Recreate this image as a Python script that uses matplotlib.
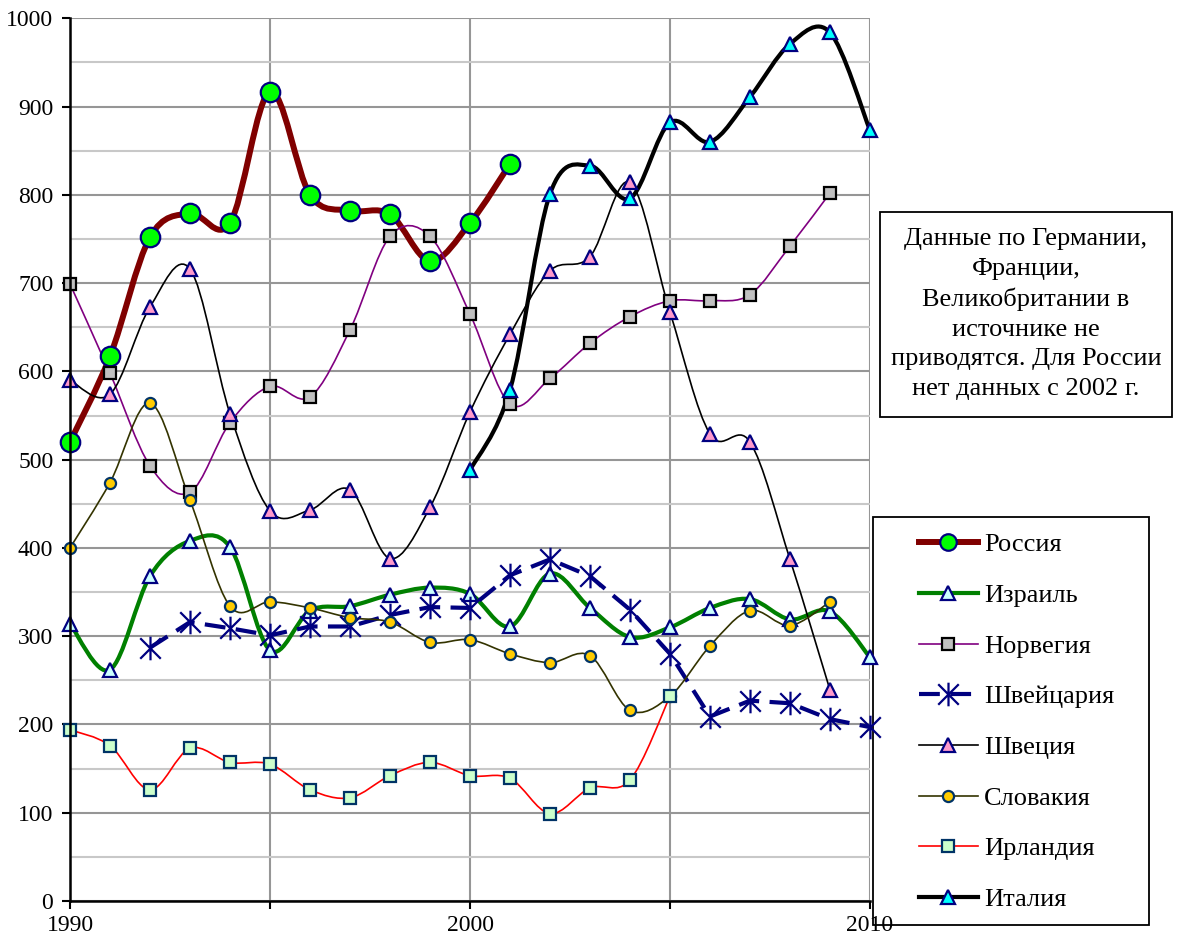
import numpy as np
import matplotlib
matplotlib.use("Agg")
import matplotlib.pyplot as plt
from matplotlib.path import Path
from matplotlib.patches import PathPatch, Rectangle
from matplotlib.lines import Line2D

plt.rcParams['font.family'] = ['Liberation Serif', 'DejaVu Serif']

# ---------------- data ----------------
russia_years = list(range(1990, 2002))
russia = [520, 617, 752, 779, 768, 917, 800, 782, 778, 725, 768, 835]

israel_years = list(range(1990, 2011))
israel = [314, 262, 368, 408, 401, 284, 329, 334, 347, 355, 348, 311, 371, 332, 299,
          310, 332, 342, 319, 328, 276]

norway_years = list(range(1990, 2010))
norway = [699, 598, 493, 463, 542, 583, 571, 647, 753, 753, 665, 563, 592, 632, 662,
          680, 680, 687, 742, 802]

swiss_years = list(range(1992, 2011))
swiss = [287, 316, 309, 301, 311, 311, 324, 333, 332, 369, 387, 368, 330, 280, 209,
         227, 224, 206, 197]

sweden_years = list(range(1990, 2010))
sweden = [590, 574, 673, 716, 552, 442, 443, 466, 388, 446, 554, 642, 714, 730, 814,
          667, 529, 520, 387, 239]

slovakia_years = list(range(1990, 2010))
slovakia = [400, 474, 564, 454, 334, 339, 332, 321, 316, 293, 296, 280, 270, 278, 216,
            232, 289, 329, 312, 339]

ireland_years = list(range(1990, 2006))
ireland = [194, 176, 126, 173, 157, 155, 126, 117, 142, 157, 142, 139, 99, 128, 137, 232]

italy_years = list(range(2000, 2011))
italy = [488, 579, 801, 833, 796, 882, 860, 911, 971, 984, 873]

labels = ['Россия', 'Израиль', 'Норвегия', 'Швейцария', 'Швеция', 'Словакия',
          'Ирландия', 'Италия']
x_tick_values = [1990, 1995, 2000, 2005, 2010]
x_tick_labels = ['1990', '', '2000', '', '2010']
note_text = ("Данные по Германии,\nФранции,\nВеликобритании в\nисточнике не\n"
             "приводятся. Для России\nнет данных с 2002 г.")

# -------------- figure ---------------
W, H = 1178, 942
fig = plt.figure(figsize=(W / 100, H / 100), dpi=100)
ax = fig.add_axes([70 / W, 1 - 901 / H, 800 / W, 882.7 / H])
ax.set_zorder(4)
ax.set_xlim(1990, 2010)
ax.set_ylim(0, 1000)

ax.set_yticks(np.arange(0, 1001, 100))
ax.set_yticks(np.arange(50, 1000, 100), minor=True)
ax.set_xticks(x_tick_values)
ax.set_xticklabels(x_tick_labels)
ax.grid(axis='y', which='major', color='#969696', lw=1.5, zorder=0)
ax.grid(axis='y', which='minor', color='#c8c8c8', lw=1.5, zorder=0)
ax.grid(axis='x', which='major', color='#969696', lw=1.5, zorder=0)
ax.tick_params(axis='y', which='minor', length=0)
ax.tick_params(axis='both', which='major', direction='out', length=6, width=1.5,
               labelsize=17, color='black')
ax.tick_params(axis='x', pad=4)
ax.tick_params(axis='y', pad=6)
for s in ['top', 'right']:
    ax.spines[s].set_visible(False)
for s in ['left', 'bottom']:
    ax.spines[s].set_linewidth(1.8)
    ax.spines[s].set_zorder(10)
ax.set_axisbelow(True)


def smooth_path(xs, ys):
    pts = np.column_stack([xs, ys]).astype(float)
    n = len(pts)
    verts = [pts[0]]
    codes = [Path.MOVETO]
    for i in range(n - 1):
        p0 = pts[i - 1] if i > 0 else pts[i]
        p1 = pts[i]
        p2 = pts[i + 1]
        p3 = pts[i + 2] if i + 2 < n else pts[i + 1]
        c1 = p1 + (p2 - p0) / 6.0
        c2 = p2 - (p3 - p1) / 6.0
        verts += [c1, c2, p2]
        codes += [Path.CURVE4] * 3
    return Path(verts, codes)


star = Path([(-1, -1), (1, 1), (-1, 1), (1, -1), (0, -1.15), (0, 1.15)],
            [Path.MOVETO, Path.LINETO, Path.MOVETO, Path.LINETO, Path.MOVETO, Path.LINETO])

series = [
    dict(x=russia_years, y=russia, color='#800000', lw=4.3, smooth=True,
         marker='o', ms=14, mfc='#00ff00', mec='#000080'),
    dict(x=israel_years, y=israel, color='#008000', lw=3.0, smooth=True,
         marker='^', ms=10.5, mfc='#ccffff', mec='#000080'),
    dict(x=norway_years, y=norway, color='#800080', lw=1.2, smooth=True,
         marker='s', ms=8.5, mfc='#c0c0c0', mec='black'),
    dict(x=swiss_years, y=swiss, color='#000080', lw=3.0, smooth=False,
         marker=star, ms=17, mfc='none', mec='#000080'),
    dict(x=sweden_years, y=sweden, color='black', lw=1.2, smooth=True,
         marker='^', ms=10.5, mfc='#ff99cc', mec='#000080'),
    dict(x=slovakia_years, y=slovakia, color='#333300', lw=1.2, smooth=True,
         marker='o', ms=8, mfc='#ffcc00', mec='#003366'),
    dict(x=ireland_years, y=ireland, color='#ff0000', lw=1.2, smooth=True,
         marker='s', ms=8.5, mfc='#ccffcc', mec='#003366'),
    dict(x=italy_years, y=italy, color='black', lw=3.0, smooth=True,
         marker='^', ms=10.5, mfc='#00ffff', mec='#000080'),
]

handles = []
for i, (s, lab) in enumerate(zip(series, labels)):
    if s['smooth']:
        patch = PathPatch(smooth_path(s['x'], s['y']), fill=False, edgecolor=s['color'],
                          lw=s['lw'], capstyle='round', joinstyle='round',
                          zorder=2 + i * 0.01, clip_on=False)
        ax.add_patch(patch)
        ls = '-'
    else:
        ax.plot(s['x'], s['y'], color=s['color'], lw=s['lw'], ls=(0, (5, 2.5)),
                zorder=2 + i * 0.01, clip_on=False)
        ls = (0, (5, 2.5))
    ax.plot(s['x'], s['y'], ls='none', marker=s['marker'], ms=s['ms'],
            mfc=s['mfc'], mec=s['mec'], mew=1.6, zorder=3 + i * 0.01, clip_on=False)
    handles.append(Line2D([], [], color=s['color'], lw=s['lw'], ls=ls,
                          marker=s['marker'], ms=s['ms'] * (0.85 if i == 0 else 1),
                          mfc=s['mfc'], mec=s['mec'], mew=1.6))

# legend frame
fig.add_artist(Rectangle((873 / W, 1 - 925 / H), 276 / W, 408 / H, transform=fig.transFigure,
                         facecolor='white', edgecolor='black', lw=1.3, zorder=3))
leg = fig.legend(handles, labels, loc='upper left',
                 bbox_to_anchor=(919 / W, 1 - 533 / H), frameon=False, fontsize=19,
                 borderpad=0, borderaxespad=0, handlelength=2.23, handletextpad=0.23,
                 labelspacing=1.03, numpoints=1)
leg.set_zorder(6)

# note box
fig.add_artist(Rectangle((880 / W, 1 - 417 / H), 292 / W, 205 / H, transform=fig.transFigure,
                         facecolor='white', edgecolor='black', lw=1.3, zorder=3))
fig.text(1026 / W, 1 - 314 / H, note_text, ha='center', va='center', fontsize=19,
         multialignment='center', linespacing=1.44, zorder=6)

fig.savefig('out.png', dpi=100)
